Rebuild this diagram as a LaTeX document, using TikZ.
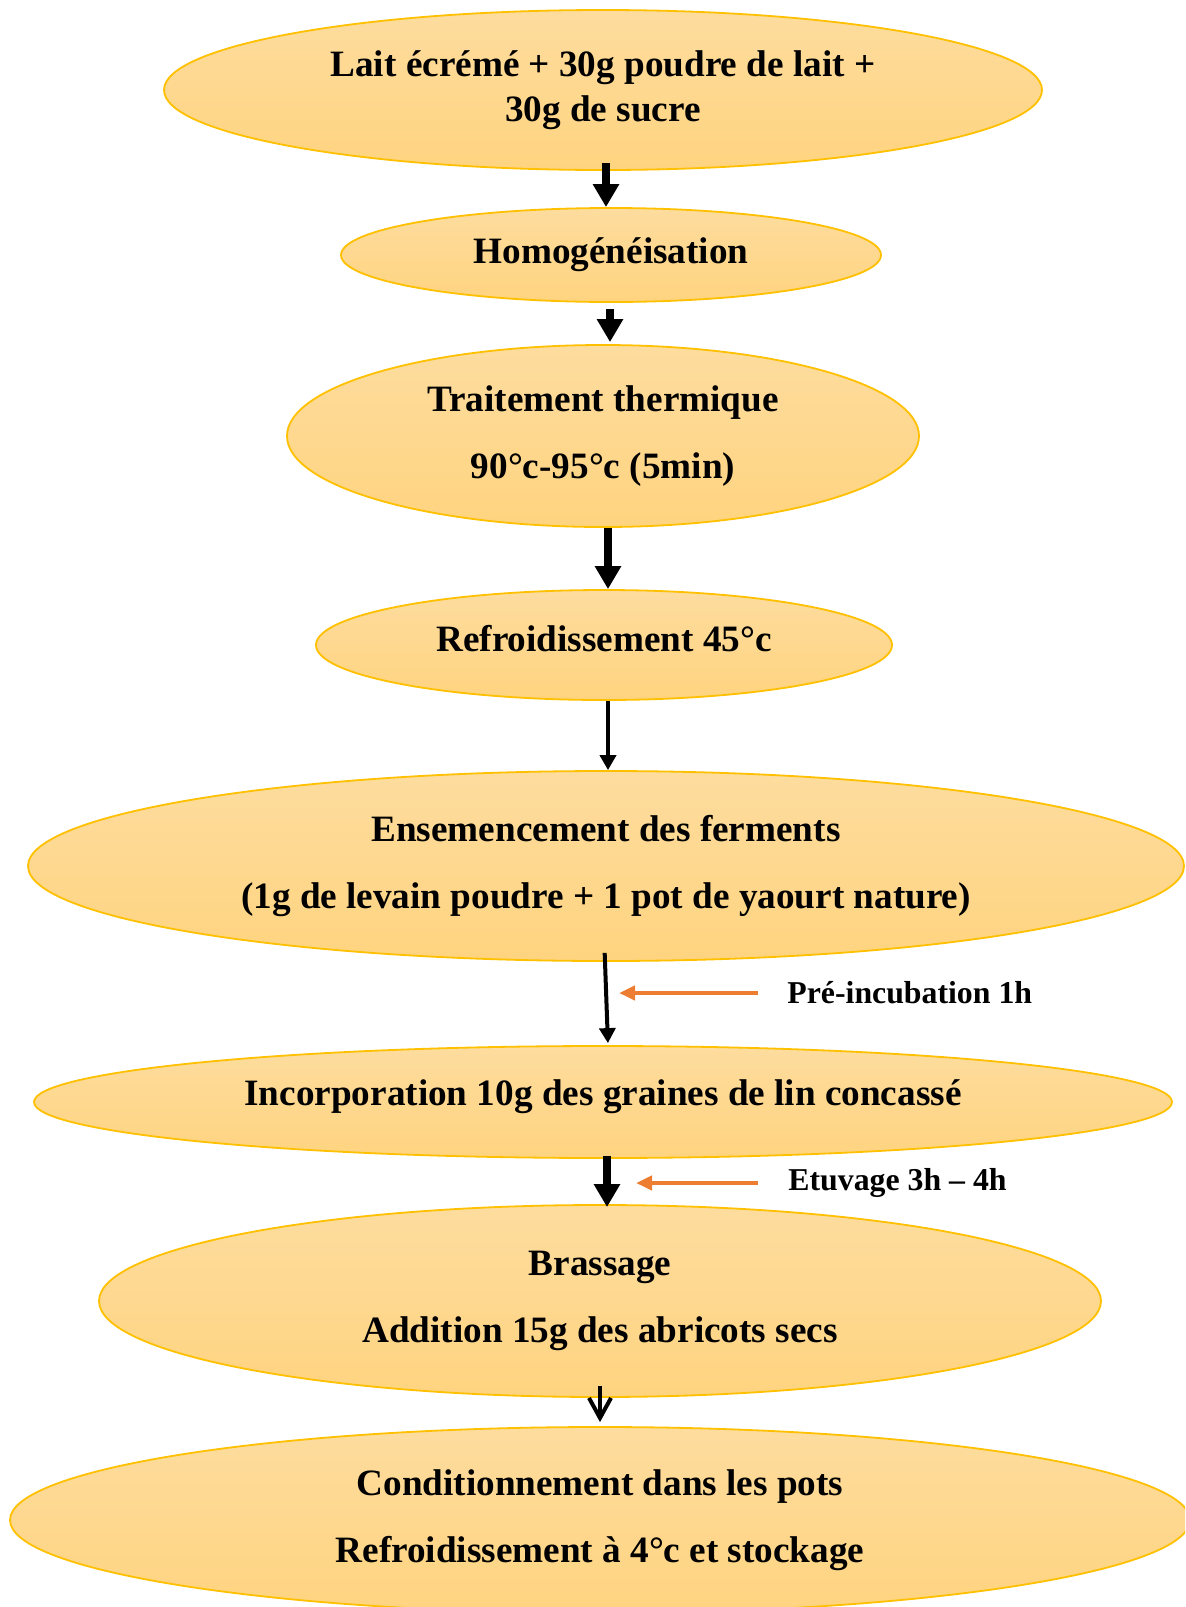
\documentclass[tikz,border=0pt]{standalone}
\usepackage{fontspec}
\setmainfont{Liberation Serif}
\usetikzlibrary{shapes.geometric,arrows.meta}
\definecolor{ovaltop}{HTML}{FDDC9E}
\definecolor{ovalbottom}{HTML}{FFD480}
\definecolor{ovalline}{HTML}{FFC000}
\definecolor{noteorange}{HTML}{ED7D31}
\tikzset{
	% ---- default
	every node/.style={font=\bfseries\fontsize{18.6}{22.5}\selectfont},
	% ---- custom
	oval/.style={ellipse, draw=ovalline, line width=0.9pt, top color=ovaltop,
		bottom color=ovalbottom, inner sep=0pt, align=center},
	fat arrow/.style={line width=4.2pt, -{Triangle[width=12.5pt,length=11.5pt]}},
	thin arrow/.style={line width=2pt, -{Triangle[width=8pt,length=7.5pt]}},
	open arrow/.style={line width=2pt, -{Straight Barb[width=11pt,length=10pt]}},
	note arrow/.style={line width=2.2pt, noteorange, -{Triangle[width=7pt,length=8pt]}},
	note/.style={anchor=west, inner sep=0pt, font=\bfseries\fontsize{15.9}{19}\selectfont},
}

\begin{document}
\begin{tikzpicture}[x=0.5pt,y=-0.5pt]

% frame %{{{2

	\useasboundingbox (0,0) rectangle (1185,1607);
	\clip (0,0) rectangle (1185,1607);

% parameters %{{{2

	\def\gap{11pt}

% steps %{{{2

	\node[oval, minimum width=439pt, minimum height=80pt] (lait) at (603,90)
		{Lait écrémé + 30g poudre de lait +\\30g de sucre};
	\node[oval, minimum width=270pt, minimum height=47pt] (homog) at (611,255)
		{Homogénéisation};
	\node[oval, minimum width=316pt, minimum height=91pt] (therm) at (603,436)
		{Traitement thermique\\[\gap]90°c-95°c (5min)};
	\node[oval, minimum width=288pt, minimum height=55pt, text depth=7pt] (refr) at (604,645)
		{Refroidissement 45°c};
	\node[oval, minimum width=578pt, minimum height=95pt] (ensem) at (606,866)
		{Ensemencement des ferments\\[\gap](1g de levain poudre + 1 pot de yaourt nature)};
	\node[oval, minimum width=569pt, minimum height=56pt, text depth=9pt] (incorp) at (603,1102)
		{Incorporation 10g des graines de lin concassé};
	\node[oval, minimum width=501pt, minimum height=96pt] (brass) at (600,1301)
		{Brassage\\[\gap]Addition 15g des abricots secs};
	\node[oval, minimum width=590pt, minimum height=93pt] (condi) at (600,1520)
		{Conditionnement dans les pots\\[\gap]Refroidissement à 4°c et stockage};

% notes %{{{2

	\node[note] (preinc) at (787,993) {Pré-incubation 1h};
	\node[note] (etuv) at (788,1183) {Etuvage 3h – 4h};

% arrow axes %{{{2

	\coordinate (s1) at (606,0);
	\coordinate (s2) at (610,0);
	\coordinate (s3) at (608,0);
	\coordinate (s4) at (608,0);
	\coordinate (s5) at (605,0);
	\coordinate (t5) at (608,0);
	\coordinate (s6) at (607,0);
	\coordinate (s7) at (600,0);
	\coordinate (pretip) at (619,993);
	\coordinate (etutip) at (636,1183);

% arrows %{{{2

	\draw[fat arrow, shorten <=-4pt] (lait.south -| s1) -- (homog.north -| s1);
	\draw[fat arrow, shorten <=3pt, shorten >=1pt] (homog.south -| s2) -- (therm.north -| s2);
	\draw[fat arrow] (therm.south -| s3) -- (refr.north -| s3);
	\draw[thin arrow] (refr.south -| s4) -- (ensem.north -| s4);
	\draw[thin arrow, shorten <=-4.5pt, shorten >=1pt] (ensem.south -| s5) -- (incorp.north -| t5);
	\draw[fat arrow, shorten <=-1.5pt, shorten >=-1.5pt] (incorp.south -| s6) -- (brass.north -| s6);
	\draw[open arrow, shorten <=-6pt, shorten >=2pt] (brass.south -| s7) -- (condi.north -| s7);

	\draw[note arrow, shorten <=14.5pt] (preinc.west) -- (pretip);
	\draw[note arrow, shorten <=15pt] (etuv.west) -- (etutip);

% closing %{{{2

\end{tikzpicture}
\end{document}
